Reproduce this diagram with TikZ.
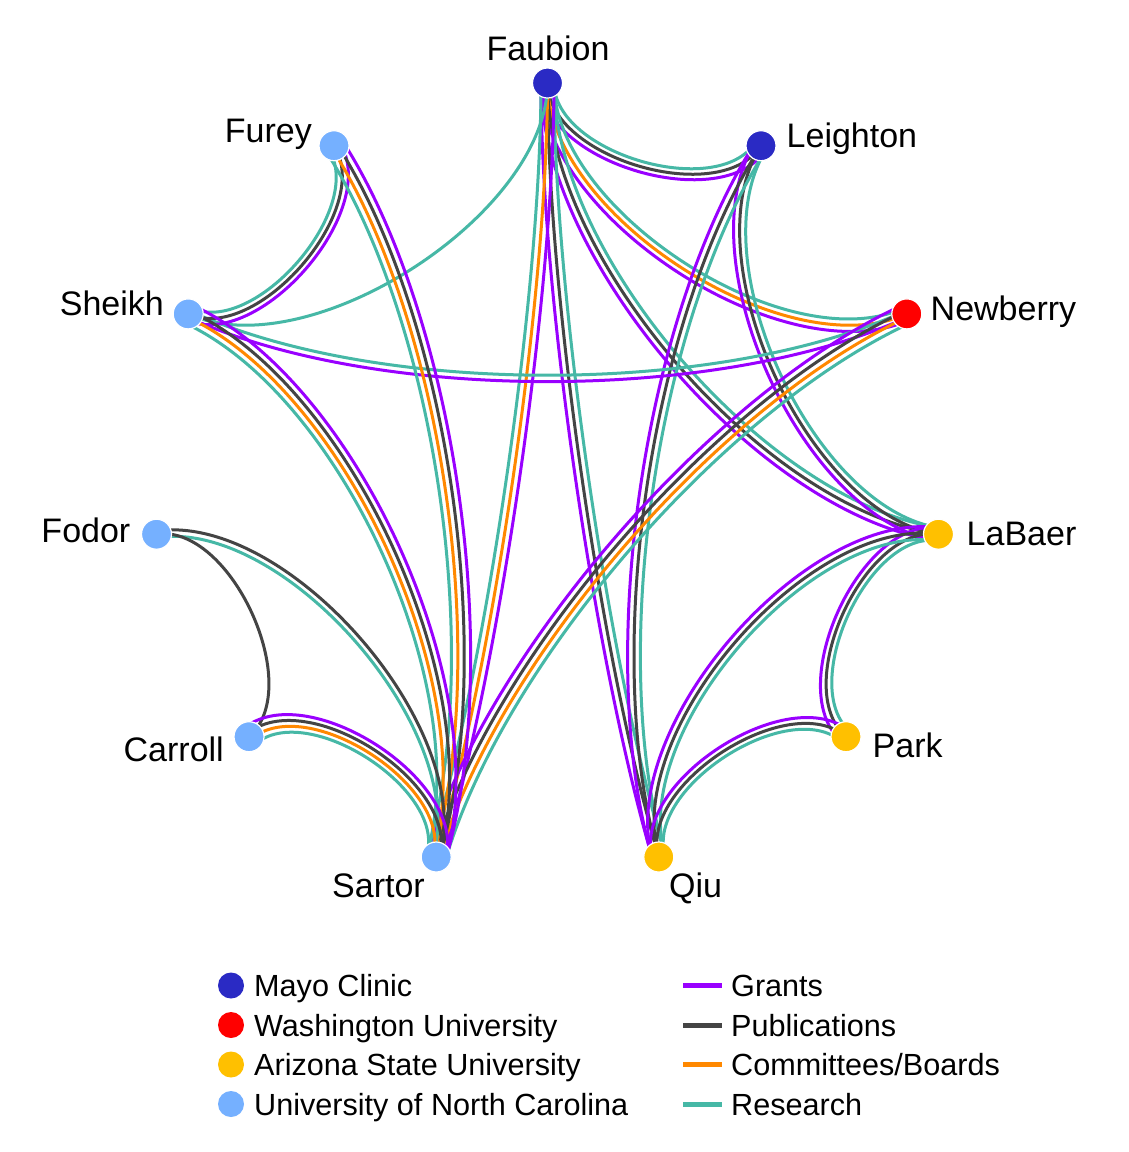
\documentclass[tikz,border=0pt]{standalone}
\usepackage{fontspec}
\setmainfont{Liberation Sans}
\usetikzlibrary{calc,backgrounds}
\definecolor{cMayo}{RGB}{42,42,196}
\definecolor{cWash}{RGB}{255,0,0}
\definecolor{cASU}{RGB}{255,192,0}
\definecolor{cUNC}{RGB}{117,176,255}
\definecolor{cGrant}{RGB}{153,0,255}
\definecolor{cPub}{RGB}{68,68,68}
\definecolor{cComm}{RGB}{255,136,0}
\definecolor{cRes}{RGB}{70,184,166}
\tikzset{
  vtx/.style={circle, minimum size=30pt, inner sep=0pt, draw=white, line width=1.2pt},
  lbl/.style={inner sep=0pt, font=\fontsize{34}{40}\selectfont},
  legtxt/.style={inner sep=0pt, anchor=base west, font=\fontsize{30.6}{36}\selectfont},
  legdot/.style={circle, minimum size=26pt, inner sep=0pt},
  grant/.style={draw=cGrant, line width=3pt},
  pub/.style={draw=cPub, line width=3pt},
  comm/.style={draw=cComm, line width=3pt},
  res/.style={draw=cRes, line width=3pt},
  legline/.style={line width=5pt},
}
% #1 = start node, #2 = end node (clockwise order), #3 = control factor,
% #4 = list style/offset (positive offset = towards the centre)
\newcommand\bundle[4]{%
  \coordinate (p0) at (#1.center);
  \coordinate (p3) at (#2.center);
  \coordinate (p1) at ($(O)!#3!(p0)$);
  \coordinate (p2) at ($(O)!#3!(p3)$);
  \foreach \sty/\off in {#4}{%
    \coordinate (a0) at ($(p0)!\off!-90:(p1)$);
    \coordinate (a1) at ($(p1)!\off!90:(p0)$);
    \coordinate (b1) at ($(p1)!\off!-90:(p2)$);
    \coordinate (b2) at ($(p2)!\off!90:(p1)$);
    \coordinate (c2) at ($(p2)!\off!-90:(p3)$);
    \coordinate (c3) at ($(p3)!\off!90:(p2)$);
    \coordinate (q1) at (intersection of a0--a1 and b1--b2);
    \coordinate (q2) at (intersection of b1--b2 and c2--c3);
    \draw[\sty] (a0) .. controls (q1) and (q2) .. (c3);
  }%
}
\begin{document}
\begin{tikzpicture}[x=1pt,y=-1pt]
\useasboundingbox (0,0) rectangle (1128,1152);
\coordinate (O) at (547.5,478);
% vertices
\node[vtx, fill=cMayo] (Faubion) at (547.5,83) {};
\node[vtx, fill=cMayo] (Leighton) at (761.0,145.7) {};
\node[vtx, fill=cWash] (Newberry) at (906.8,313.9) {};
\node[vtx, fill=cASU] (LaBaer) at (938.5,534.2) {};
\node[vtx, fill=cASU] (Park) at (846.0,736.7) {};
\node[vtx, fill=cASU] (Qiu) at (658.8,857.0) {};
\node[vtx, fill=cUNC] (Sartor) at (436.2,857.0) {};
\node[vtx, fill=cUNC] (Carroll) at (249.0,736.7) {};
\node[vtx, fill=cUNC] (Fodor) at (156.5,534.2) {};
\node[vtx, fill=cUNC] (Sheikh) at (188.2,313.9) {};
\node[vtx, fill=cUNC] (Furey) at (334.0,145.7) {};
% labels
\node[lbl, anchor=base] (tFaubion) at (548,60) {Faubion};
\node[lbl, anchor=base west] (tLeighton) at (786.5,147) {Leighton};
\node[lbl, anchor=base west] (tNewberry) at (930.5,320) {Newberry};
\node[lbl, anchor=base west] (tLaBaer) at (966.5,545) {LaBaer};
\node[lbl, anchor=base west] (tPark) at (872.5,757) {Park};
\node[lbl, anchor=base west] (tQiu) at (669,897) {Qiu};
\node[lbl, anchor=base east] (tSartor) at (425,897) {Sartor};
\node[lbl, anchor=base east] (tCarroll) at (224,761) {Carroll};
\node[lbl, anchor=base east] (tFodor) at (130.5,542) {Fodor};
\node[lbl, anchor=base east] (tSheikh) at (164,315) {Sheikh};
\node[lbl, anchor=base east] (tFurey) at (312,142) {Furey};
% edges
\begin{scope}[on background layer]
\fill[white] (0,0) rectangle (1128,1152);
\bundle{Faubion}{Leighton}{0.81}{res/-6.5pt,pub/0pt,grant/6.5pt}
\bundle{Faubion}{Newberry}{0.667}{res/-6.5pt,comm/0pt,grant/6.5pt}
\bundle{Faubion}{LaBaer}{0.556}{res/-6.5pt,pub/0pt,grant/6.5pt}
\bundle{Faubion}{Qiu}{0.476}{res/-6.5pt,pub/0pt,grant/6.5pt}
\bundle{Sartor}{Faubion}{0.476}{res/-6.5pt,comm/0pt,grant/6.5pt}
\bundle{Sheikh}{Faubion}{0.667}{res/0pt}
\bundle{Leighton}{LaBaer}{0.667}{res/-6.5pt,pub/0pt,grant/6.5pt}
\bundle{Leighton}{Qiu}{0.476}{res/-6.5pt,pub/0pt,grant/6.5pt}
\bundle{Sheikh}{Newberry}{0.476}{res/-3.25pt,grant/3.25pt}
\bundle{Newberry}{Sartor}{0.476}{res/-9.75pt,comm/-3.25pt,pub/3.25pt,grant/9.75pt}
\bundle{LaBaer}{Park}{0.81}{res/-6.5pt,pub/0pt,grant/6.5pt}
\bundle{LaBaer}{Qiu}{0.667}{res/-6.5pt,pub/0pt,grant/6.5pt}
\bundle{Park}{Qiu}{0.81}{res/-6.5pt,pub/0pt,grant/6.5pt}
\bundle{Sheikh}{Furey}{0.81}{res/-6.5pt,pub/0pt,grant/6.5pt}
\bundle{Sartor}{Furey}{0.476}{res/-9.75pt,comm/-3.25pt,pub/3.25pt,grant/9.75pt}
\bundle{Sartor}{Sheikh}{0.556}{res/-9.75pt,comm/-3.25pt,pub/3.25pt,grant/9.75pt}
\bundle{Sartor}{Fodor}{0.667}{res/-3.25pt,pub/3.25pt}
\bundle{Carroll}{Fodor}{0.81}{pub/0pt}
\bundle{Sartor}{Carroll}{0.81}{res/-9.75pt,comm/-3.25pt,pub/3.25pt,grant/9.75pt}
\end{scope}
% legend
\node[legdot, fill=cMayo] (dMayo) at (231,985.5) {};
\node[legdot, fill=cWash] (dWash) at (231,1025) {};
\node[legdot, fill=cASU] (dASU) at (231,1064.5) {};
\node[legdot, fill=cUNC] (dUNC) at (231,1104) {};
\node[legtxt] (lMayo) at (254,996.5) {Mayo Clinic};
\node[legtxt] (lWash) at (254,1036) {Washington University};
\node[legtxt] (lASU) at (254,1075.5) {Arizona State University};
\node[legtxt] (lUNC) at (254,1115) {University of North Carolina};
\draw[legline, cGrant] (683,985.5) -- (722,985.5);
\draw[legline, cPub] (683,1025) -- (722,1025);
\draw[legline, cComm] (683,1064.5) -- (722,1064.5);
\draw[legline, cRes] (683,1104) -- (722,1104);
\node[legtxt] (lGrant) at (731,996.5) {Grants};
\node[legtxt] (lPub) at (731,1036) {Publications};
\node[legtxt] (lComm) at (731,1075.5) {Committees/Boards};
\node[legtxt] (lRes) at (731,1115) {Research};
\end{tikzpicture}
\end{document}
